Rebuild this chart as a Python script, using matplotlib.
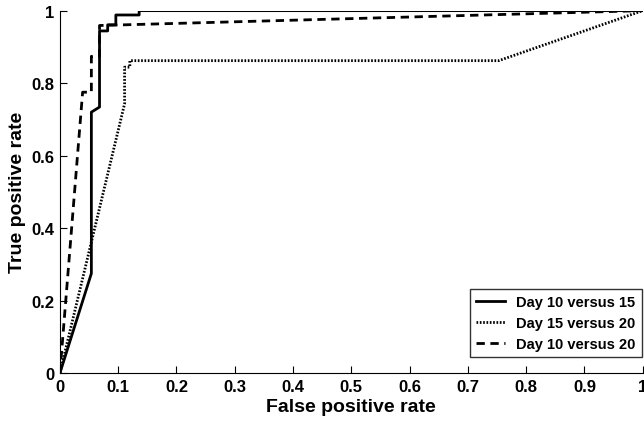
import matplotlib
matplotlib.use('Agg')
from matplotlib import pyplot as plt
from matplotlib.ticker import FuncFormatter

plt.rcParams['font.family'] = ['Liberation Sans', 'DejaVu Sans']
plt.rcParams['font.weight'] = 'bold'

# ROC curves
fpr_10_15 = [0, 0.054, 0.054, 0.068, 0.068, 0.082, 0.082, 0.096, 0.096, 0.136, 0.136, 1.0]
tpr_10_15 = [0, 0.275, 0.72, 0.734, 0.944, 0.944, 0.961, 0.961, 0.988, 0.988, 1.0, 1.0]

fpr_15_20 = [0, 0.111, 0.111, 0.12, 0.12, 0.753, 1.0]
tpr_15_20 = [0, 0.743, 0.844, 0.844, 0.862, 0.862, 1.0]

fpr_10_20 = [0, 0.039, 0.054, 0.054, 0.068, 0.068, 1.0]
tpr_10_20 = [0, 0.775, 0.775, 0.874, 0.874, 0.959, 1.0]

labels = ['Day 10 versus 15', 'Day 15 versus 20', 'Day 10 versus 20']
xticks = [0, 0.1, 0.2, 0.3, 0.4, 0.5, 0.6, 0.7, 0.8, 0.9, 1]
yticks = [0, 0.2, 0.4, 0.6, 0.8, 1]

fig = plt.figure(figsize=(6.44, 4.31), dpi=100)
ax = fig.add_axes([0.093, 0.132, 0.905, 0.841])

ax.plot(fpr_10_15, tpr_10_15, c='black', lw=2, ls='-', label=labels[0])
ax.plot(fpr_15_20, tpr_15_20, c='black', lw=2, ls=(0, (0.6, 0.6)), label=labels[1])
ax.plot(fpr_10_20, tpr_10_20, c='black', lw=2, ls=(0, (3, 2)), label=labels[2])

ax.set_xlim(0, 1)
ax.set_ylim(0, 1)
ax.set_xticks(xticks)
ax.set_yticks(yticks)
fmt = FuncFormatter(lambda v, p: '%g' % v)
ax.xaxis.set_major_formatter(fmt)
ax.yaxis.set_major_formatter(fmt)
ax.tick_params(axis='both', direction='in', length=5, labelsize=12, pad=4)
for lab in ax.get_xticklabels() + ax.get_yticklabels():
    lab.set_fontweight('bold')

ax.spines['top'].set_visible(False)
ax.spines['right'].set_visible(False)

ax.set_xlabel('False positive rate', fontsize=14, fontweight='bold', labelpad=3)
ax.set_ylabel('True positive rate', fontsize=14, fontweight='bold')

leg = ax.legend(loc='lower right', bbox_to_anchor=(0.998, 0.044), borderaxespad=0,
                fontsize=10.5, frameon=True, fancybox=False, edgecolor='black',
                handlelength=2.0, handletextpad=0.8, labelspacing=0.5)
leg.get_frame().set_linewidth(1)
for t in leg.get_texts():
    t.set_fontweight('bold')

fig.savefig('out.png', dpi=100)
